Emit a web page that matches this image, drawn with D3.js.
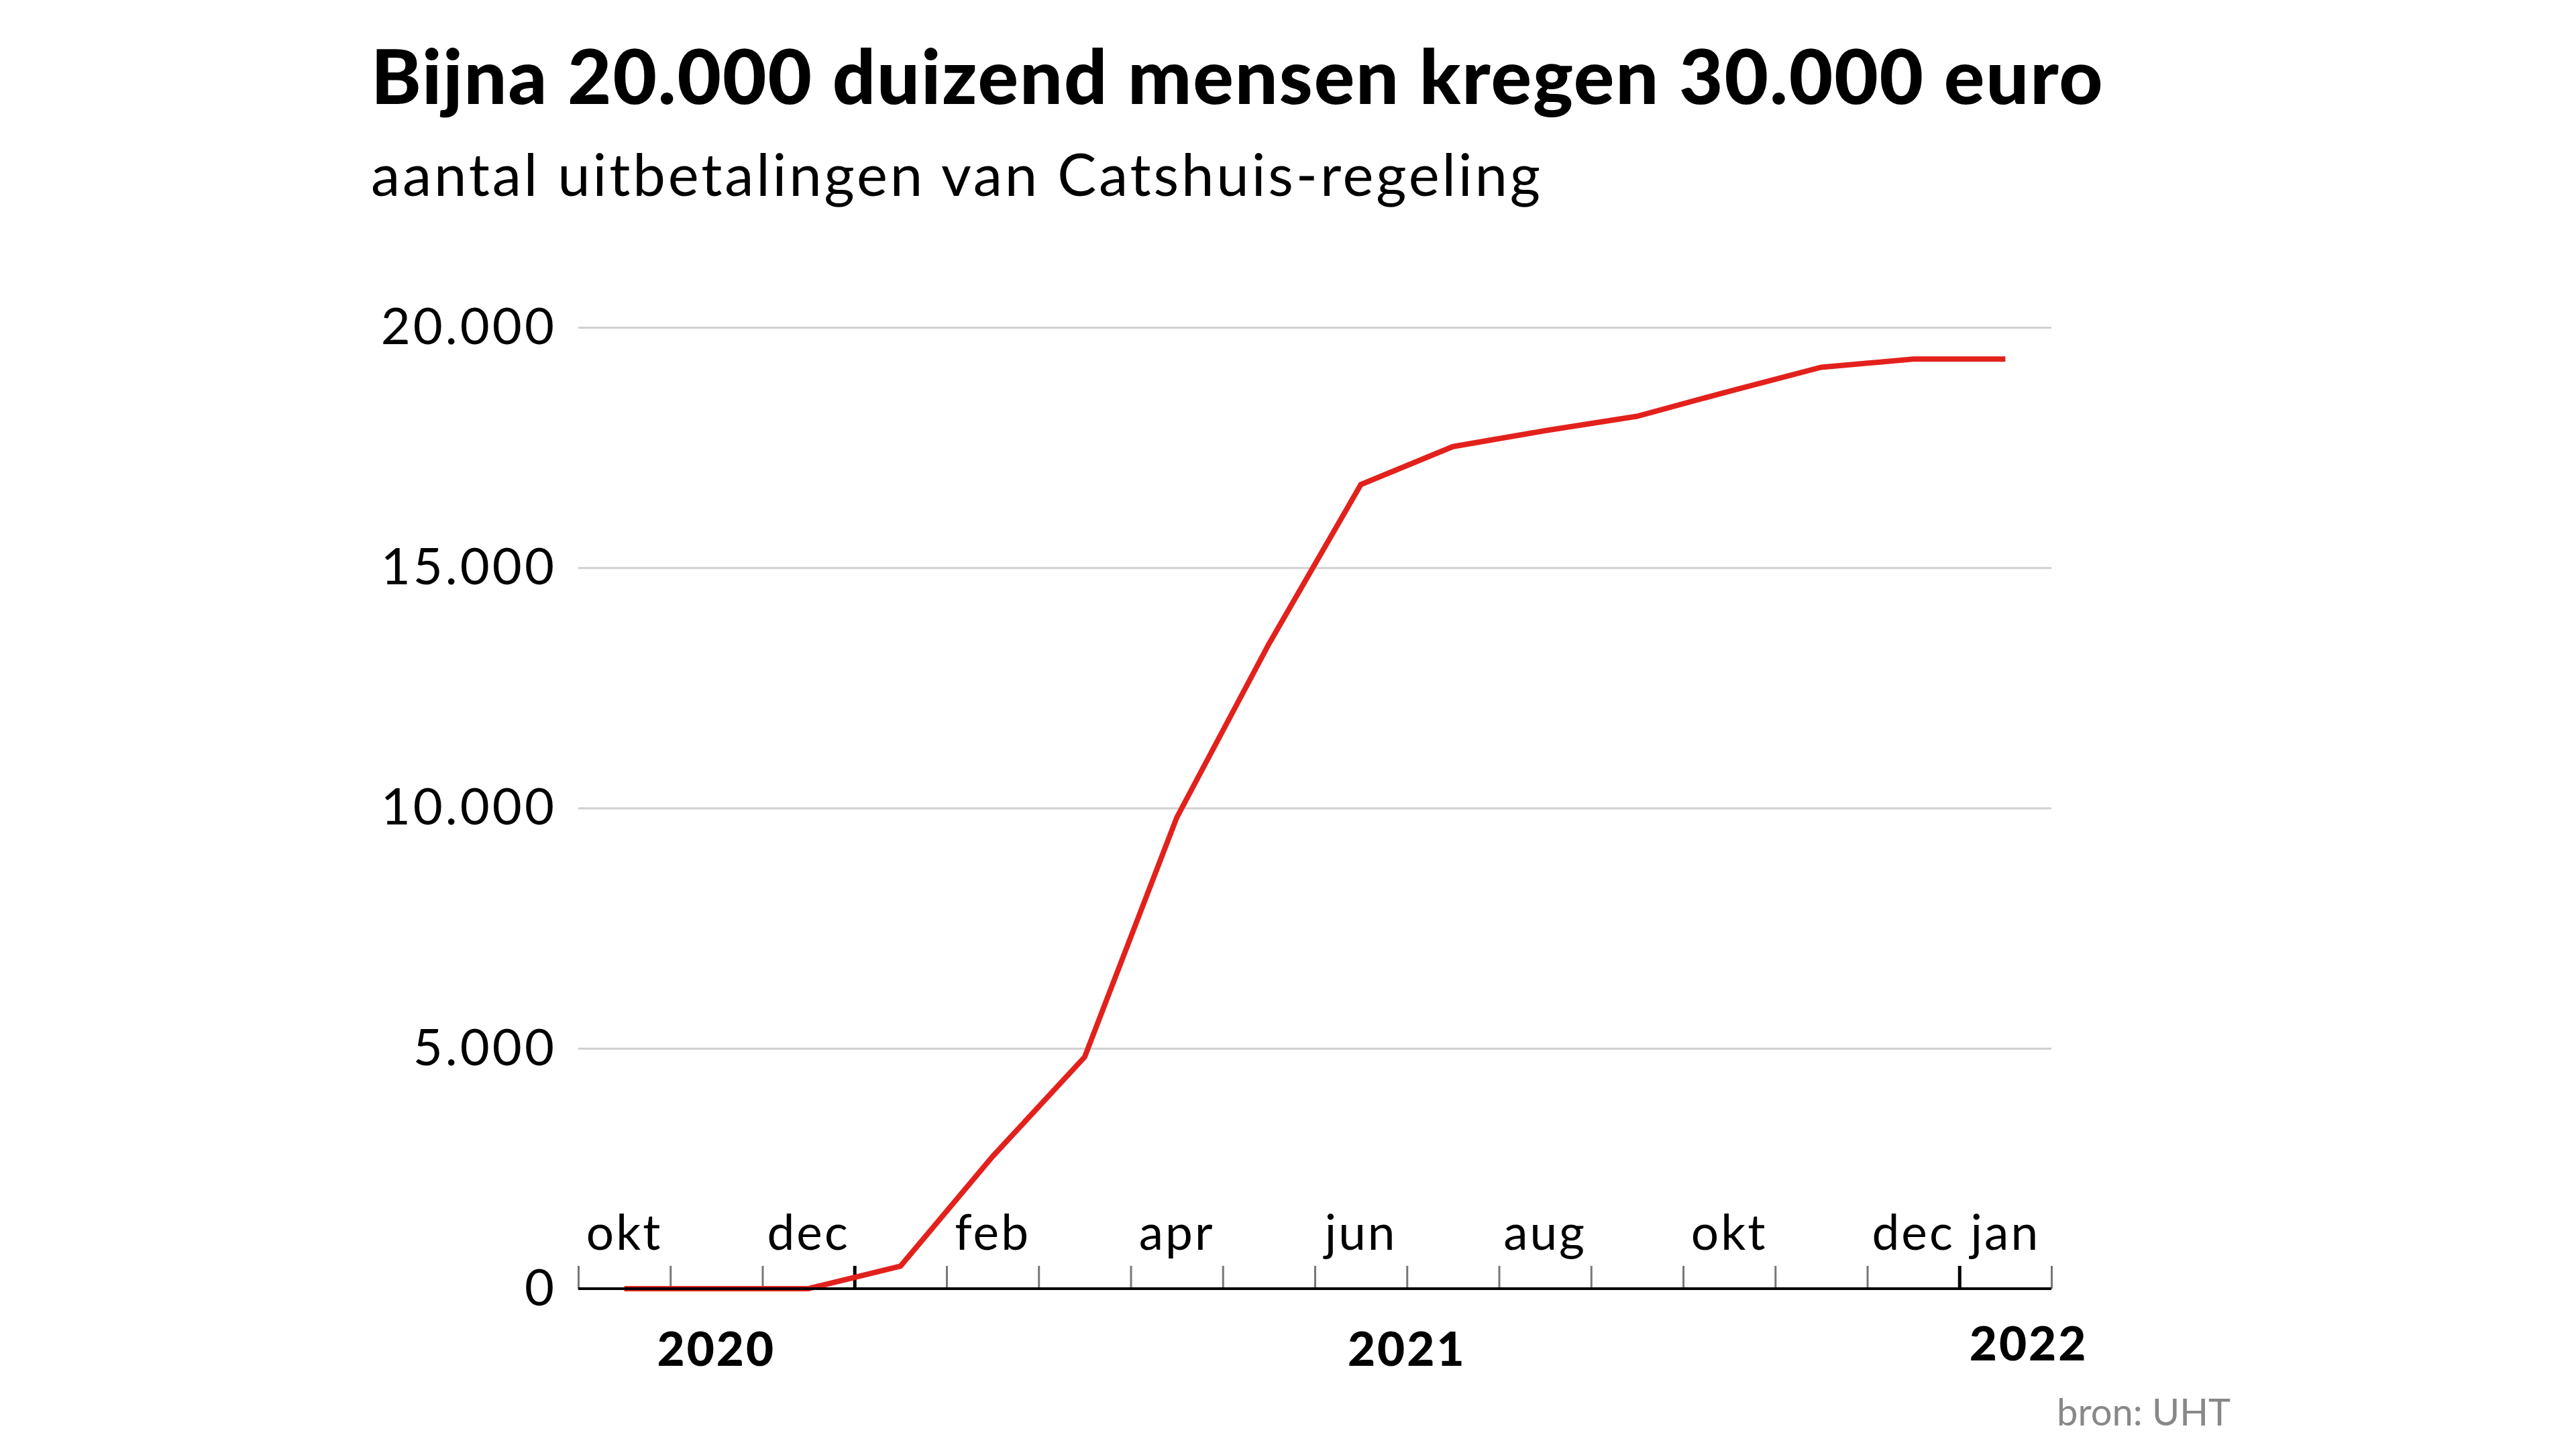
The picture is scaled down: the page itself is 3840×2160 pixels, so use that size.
<!DOCTYPE html>
<html>
<head>
<meta charset="utf-8">
<script src="https://cdn.jsdelivr.net/npm/d3@7"></script>
<style>
  html, body { margin: 0; padding: 0; background: #ffffff; }
  svg { display: block; }
</style>
</head>
<body>
<svg id="chart" width="3840" height="2160"></svg>
<script>
// ---- data (monthly, Oct 2020 .. Jan 2022) ----
const months = ["okt","nov","dec","jan","feb","mrt","apr","mei","jun","jul","aug","sep","okt","nov","dec","jan"];
const payouts = [0, 0, 0, 470, 2750, 4820, 9800, 13410, 16730, 17520, 17850, 18150, 18670, 19170, 19340, 19340];
const labelledMonths = [0, 2, 4, 6, 8, 10, 12, 14, 15];
const yTicks = [0, 5000, 10000, 15000, 20000];
const years = ["2020", "2021", "2022"];
const yearStart = [0, 3, 15];
const yearEnd = [3, 15, 16];
const titleText = "Bijna 20.000 duizend mensen kregen 30.000 euro";
const subtitleText = "aantal uitbetalingen van Catshuis-regeling";
const sourceText = "bron: UHT";

const svg = d3.select("#chart");
const plotLeft = 862, plotRight = 3058, plotTop = 488, plotBottom = 1921;

const x = d3.scaleLinear().domain([0, months.length]).range([plotLeft, plotRight]);
const y = d3.scaleLinear().domain([0, 20000]).range([plotBottom, plotTop]);
const nl = d3.formatLocale({decimal: ",", thousands: ".", grouping: [3], currency: ["€", ""]});
const fmt = nl.format(",d");

const font = "Lato, 'Noto Sans', sans-serif";

// title
svg.append("text").attr("x", 553).attr("y", 155)
  .attr("font-family", font).attr("font-weight", 900).attr("font-size", 113)
  .attr("letter-spacing", 1.9)
  .attr("fill", "#000").text(titleText);
svg.append("text").attr("x", 553).attr("y", 292)
  .attr("font-family", font).attr("font-weight", 400).attr("font-size", 87)
  .attr("letter-spacing", 3.8)
  .attr("fill", "#000").text(subtitleText);

// gridlines + y labels
const yAxis = d3.axisLeft(y).tickValues(yTicks).tickFormat(fmt).tickSize(-(plotRight - plotLeft)).tickPadding(32);
const gy = svg.append("g").attr("transform", `translate(${plotLeft},0)`).call(yAxis);
gy.select(".domain").remove();
gy.selectAll(".tick line").attr("stroke", "#d0d0d0").attr("stroke-width", 3)
  .attr("display", d => d === 0 ? "none" : null);
gy.selectAll(".tick text").attr("font-family", font).attr("font-size", 76)
  .attr("letter-spacing", 4).attr("fill", "#000");

// x axis: month ticks
const monthIdx = d3.range(months.length + 1);
const xAxis = d3.axisBottom(x).tickValues(monthIdx).tickSize(-34).tickFormat("");
const gx = svg.append("g").attr("transform", `translate(0,${plotBottom})`).call(xAxis);
gx.select(".domain").remove();
gx.selectAll(".tick line")
  .attr("stroke", d => yearStart.includes(d) && d > 0 ? "#000" : "#777")
  .attr("stroke-width", d => yearStart.includes(d) && d > 0 ? 5 : 3);

// month labels
svg.append("g").selectAll("text").data(labelledMonths).join("text")
  .attr("x", d => x(d + 0.5)).attr("y", 1863)
  .attr("text-anchor", "middle")
  .attr("font-family", font).attr("font-size", 73).attr("letter-spacing", 3).attr("fill", "#000")
  .text(d => months[d]);

// year labels
svg.append("g").selectAll("text").data(years).join("text")
  .attr("x", (d, i) => i === 2 ? x(yearStart[i]) + 15 : x((yearStart[i] + yearEnd[i]) / 2))
  .attr("y", (d, i) => i === 2 ? 2028 : 2036)
  .attr("text-anchor", (d, i) => i === 2 ? "start" : "middle")
  .attr("font-family", font).attr("font-weight", 900).attr("font-size", 71)
  .attr("letter-spacing", 3).attr("fill", "#000")
  .text(d => d);

// line
const line = d3.line().x((d, i) => x(i + 0.5)).y(d => y(d));
svg.append("path").datum(payouts)
  .attr("d", line).attr("fill", "none")
  .attr("stroke", "#e3211c").attr("stroke-width", 8).attr("stroke-linejoin", "miter");

// baseline
svg.append("line").attr("x1", plotLeft).attr("x2", plotRight).attr("y1", plotBottom).attr("y2", plotBottom)
  .attr("stroke", "#000").attr("stroke-width", 4);

// source
svg.append("text").attr("x", 3325).attr("y", 2125).attr("text-anchor", "end")
  .attr("font-family", font).attr("font-size", 56).attr("fill", "#888")
  .text(sourceText);
</script>
</body>
</html>
